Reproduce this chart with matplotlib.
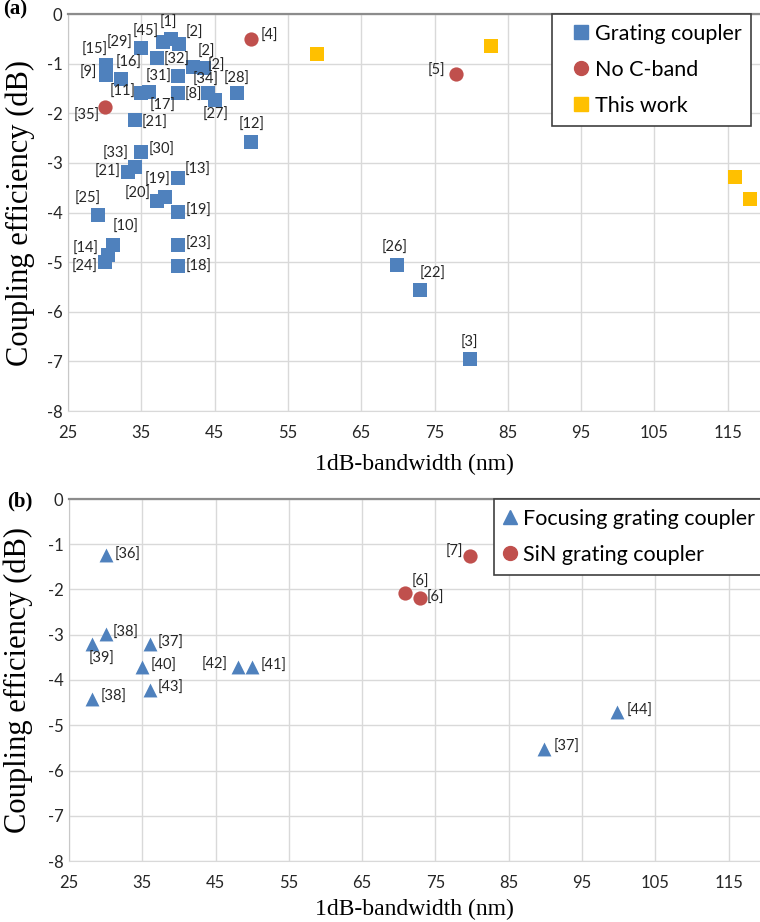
import matplotlib
matplotlib.use("Agg")
import matplotlib.pyplot as plt
from matplotlib.lines import Line2D

plt.rcParams['font.family'] = ['Lato', 'DejaVu Sans']
plt.rcParams['axes.unicode_minus'] = False

# ---------- panel (a) ----------
# grating couplers: 1dB bandwidth (nm), coupling efficiency (dB), reference
gc_bw = [35.0, 38.0, 39.1, 40.1, 37.2, 30.2, 30.2, 32.2, 42.1, 43.5,
         40.0, 35.0, 36.1, 40.0, 44.1, 45.1, 48.0, 34.1, 50.0, 35.0,
         34.1, 33.2, 40.0, 38.2, 37.1, 40.0, 29.1, 31.2, 30.5, 30.0,
         40.0, 40.0, 69.9, 73.0, 79.8]
gc_ce = [-0.69, -0.56, -0.51, -0.61, -0.89, -1.03, -1.23, -1.30, -1.06, -1.09,
         -1.25, -1.59, -1.57, -1.60, -1.60, -1.73, -1.60, -2.14, -2.57, -2.78,
         -3.08, -3.18, -3.31, -3.68, -3.76, -3.99, -4.05, -4.66, -4.86, -5.00,
         -4.66, -5.08, -5.06, -5.56, -6.96]
gc_ref = ['[29]', '[45]', '[1]', '[2]', '[32]', '[15]', '[9]', '[16]', '[2]', '[2]',
          '[31]', '[11]', '[17]', '[8]', '[34]', '[27]', '[28]', '[21]', '[12]', '[30]',
          '[33]', '[21]', '[13]', '[19]', '[20]', '[19]', '[25]', '[10]', '[14]', '[24]',
          '[23]', '[18]', '[26]', '[22]', '[3]']
# label offsets in pixels (dx, dy)
gc_off = [(-22, 5), (-18, 10), (-3, 16), (16, 11), (19, -2), (-11, 15), (-18, 2), (8, 16), (13, 15), (13, 2),
          (-19, -1), (-19, 1), (13, -14), (15, -1), (-2, 14), (0, -15), (0, 15), (20, -3), (0, 17), (20, 2),
          (-19, 13), (-20, 0), (20, 8), (-7, 17), (-19, 7), (21, 1), (-10, 16), (12, 18), (-23, 6), (-20, -5),
          (21, 1), (21, -1), (-2, 17), (13, 16), (0, 17)]

nc_bw = [50.0, 30.0, 77.9]
nc_ce = [-0.50, -1.88, -1.20]
nc_ref = ['[4]', '[35]', '[5]']
nc_off = [(18, 3), (-18, -9), (-19, 3)]

tw_bw = [59.0, 82.7, 116.0, 118.0]
tw_ce = [-0.81, -0.65, -3.28, -3.72]

# ---------- panel (b) ----------
fgc_bw = [30.0, 30.0, 28.1, 36.1, 35.0, 48.1, 50.0, 36.1, 28.1, 99.8, 89.8]
fgc_ce = [-1.24, -2.99, -3.21, -3.21, -3.71, -3.71, -3.71, -4.21, -4.41, -4.71, -5.52]
fgc_ref = ['[36]', '[38]', '[39]', '[37]', '[40]', '[42]', '[41]', '[43]', '[38]', '[44]', '[37]']
fgc_off = [(22, 0), (20, 1), (10, -15), (20, 1), (21, 1), (-24, 2), (21, 1), (20, 2), (22, 2), (22, 1), (23, 2)]

sin_bw = [79.7, 70.8, 72.9]
sin_ce = [-1.27, -2.08, -2.18]
sin_ref = ['[7]', '[6]', '[6]']
sin_off = [(-16, 5), (16, 11), (15, 0)]

BLUE = '#4f81bd'
RED = '#c0504d'
YELLOW = '#ffc000'
GRID = '#d9d9d9'
TXT = '#262626'
SERIF = ['Liberation Serif', 'DejaVu Serif']


def style_axes(ax, xmax):
    ax.set_xlim(25, xmax)
    ax.set_ylim(-8, 0)
    ax.set_xticks(range(25, 120, 10))
    ax.set_yticks(range(-8, 1))
    ax.grid(True, color=GRID, lw=1.0, zorder=0)
    ax.set_axisbelow(True)
    ax.tick_params(length=0, labelsize=12, colors=TXT)
    ax.tick_params(axis='x', pad=10)
    ax.tick_params(axis='y', pad=4)
    ax.spines['top'].set_color('#8c8c8c')
    ax.spines['top'].set_linewidth(1.6)
    ax.spines['left'].set_color('#c8c8c8')
    ax.spines['bottom'].set_color(GRID)
    ax.spines['right'].set_visible(False)
    ax.set_xlabel('1dB-bandwidth (nm)', family=SERIF, fontsize=17, color='black')
    ax.set_ylabel('Coupling efficiency (dB)', family=SERIF, fontsize=22, color='black')


def labels(ax, xs, ys, refs, offs):
    for x, y, r, (dx, dy) in zip(xs, ys, refs, offs):
        ax.annotate(r, (x, y), xytext=(dx, dy), textcoords='offset pixels',
                    ha='center', va='center', fontsize=10.5, color=TXT, zorder=4)


def legend(ax, handles, names, left, hl, tp):
    leg = ax.legend(handles, names, loc='upper left', bbox_to_anchor=(left, 1.0),
                    borderaxespad=0, fontsize=15.5, frameon=True, fancybox=False,
                    edgecolor='#404040', framealpha=1, handlelength=hl,
                    handletextpad=tp, labelspacing=0.75, borderpad=0.45)
    leg.get_frame().set_linewidth(1.2)
    return leg


fig = plt.figure(figsize=(7.6, 9.22), dpi=100)

ax1 = fig.add_axes([68 / 760, 1 - 411 / 922, 692 / 760, 397 / 922])
style_axes(ax1, 25 + 692 / 7.33)
ax1.scatter(gc_bw, gc_ce, marker='s', s=95, color=BLUE, linewidths=0, zorder=3)
ax1.scatter(nc_bw, nc_ce, marker='o', s=105, color=RED, linewidths=0, zorder=3)
ax1.scatter(tw_bw, tw_ce, marker='s', s=95, color=YELLOW, linewidths=0, zorder=3)
labels(ax1, gc_bw, gc_ce, gc_ref, gc_off)
labels(ax1, nc_bw, nc_ce, nc_ref, nc_off)
ax1.xaxis.set_label_coords(0.5, -0.107)
ax1.yaxis.set_label_coords(-0.048, 0.5)

h1 = [Line2D([], [], ls='', marker='s', ms=9.5, color=BLUE),
      Line2D([], [], ls='', marker='o', ms=10, color=RED),
      Line2D([], [], ls='', marker='s', ms=9.5, color=YELLOW)]
legend(ax1, h1, ['Grating coupler', 'No C-band', 'This work'],
       (552 - 68) / 692, 1.8, -0.25)

ax2 = fig.add_axes([69 / 760, 1 - 861 / 922, 691 / 760, 362 / 922])
style_axes(ax2, 25 + 691 / 7.33)
ax2.scatter(fgc_bw, fgc_ce, marker='^', s=100, color=BLUE, linewidths=0, zorder=3)
ax2.scatter(sin_bw, sin_ce, marker='o', s=105, color=RED, linewidths=0, zorder=3)
labels(ax2, fgc_bw, fgc_ce, fgc_ref, fgc_off)
labels(ax2, sin_bw, sin_ce, sin_ref, sin_off)
ax2.xaxis.set_label_coords(0.5, -0.105)
ax2.yaxis.set_label_coords(-0.052, 0.5)

h2 = [Line2D([], [], ls='', marker='^', ms=10, color=BLUE),
      Line2D([], [], ls='', marker='o', ms=10, color=RED)]
legend(ax2, h2, ['Focusing grating coupler', 'SiN grating coupler'],
       (494 - 69) / 691, 0.6, 0.31)

fig.text(3 / 760, 1 - 9 / 922, '(a)', family=SERIF, fontsize=15, fontweight='bold',
         ha='left', va='center')
fig.text(7 / 760, 1 - 501 / 922, '(b)', family=SERIF, fontsize=15, fontweight='bold',
         ha='left', va='center')

fig.savefig('out.png', dpi=100)
